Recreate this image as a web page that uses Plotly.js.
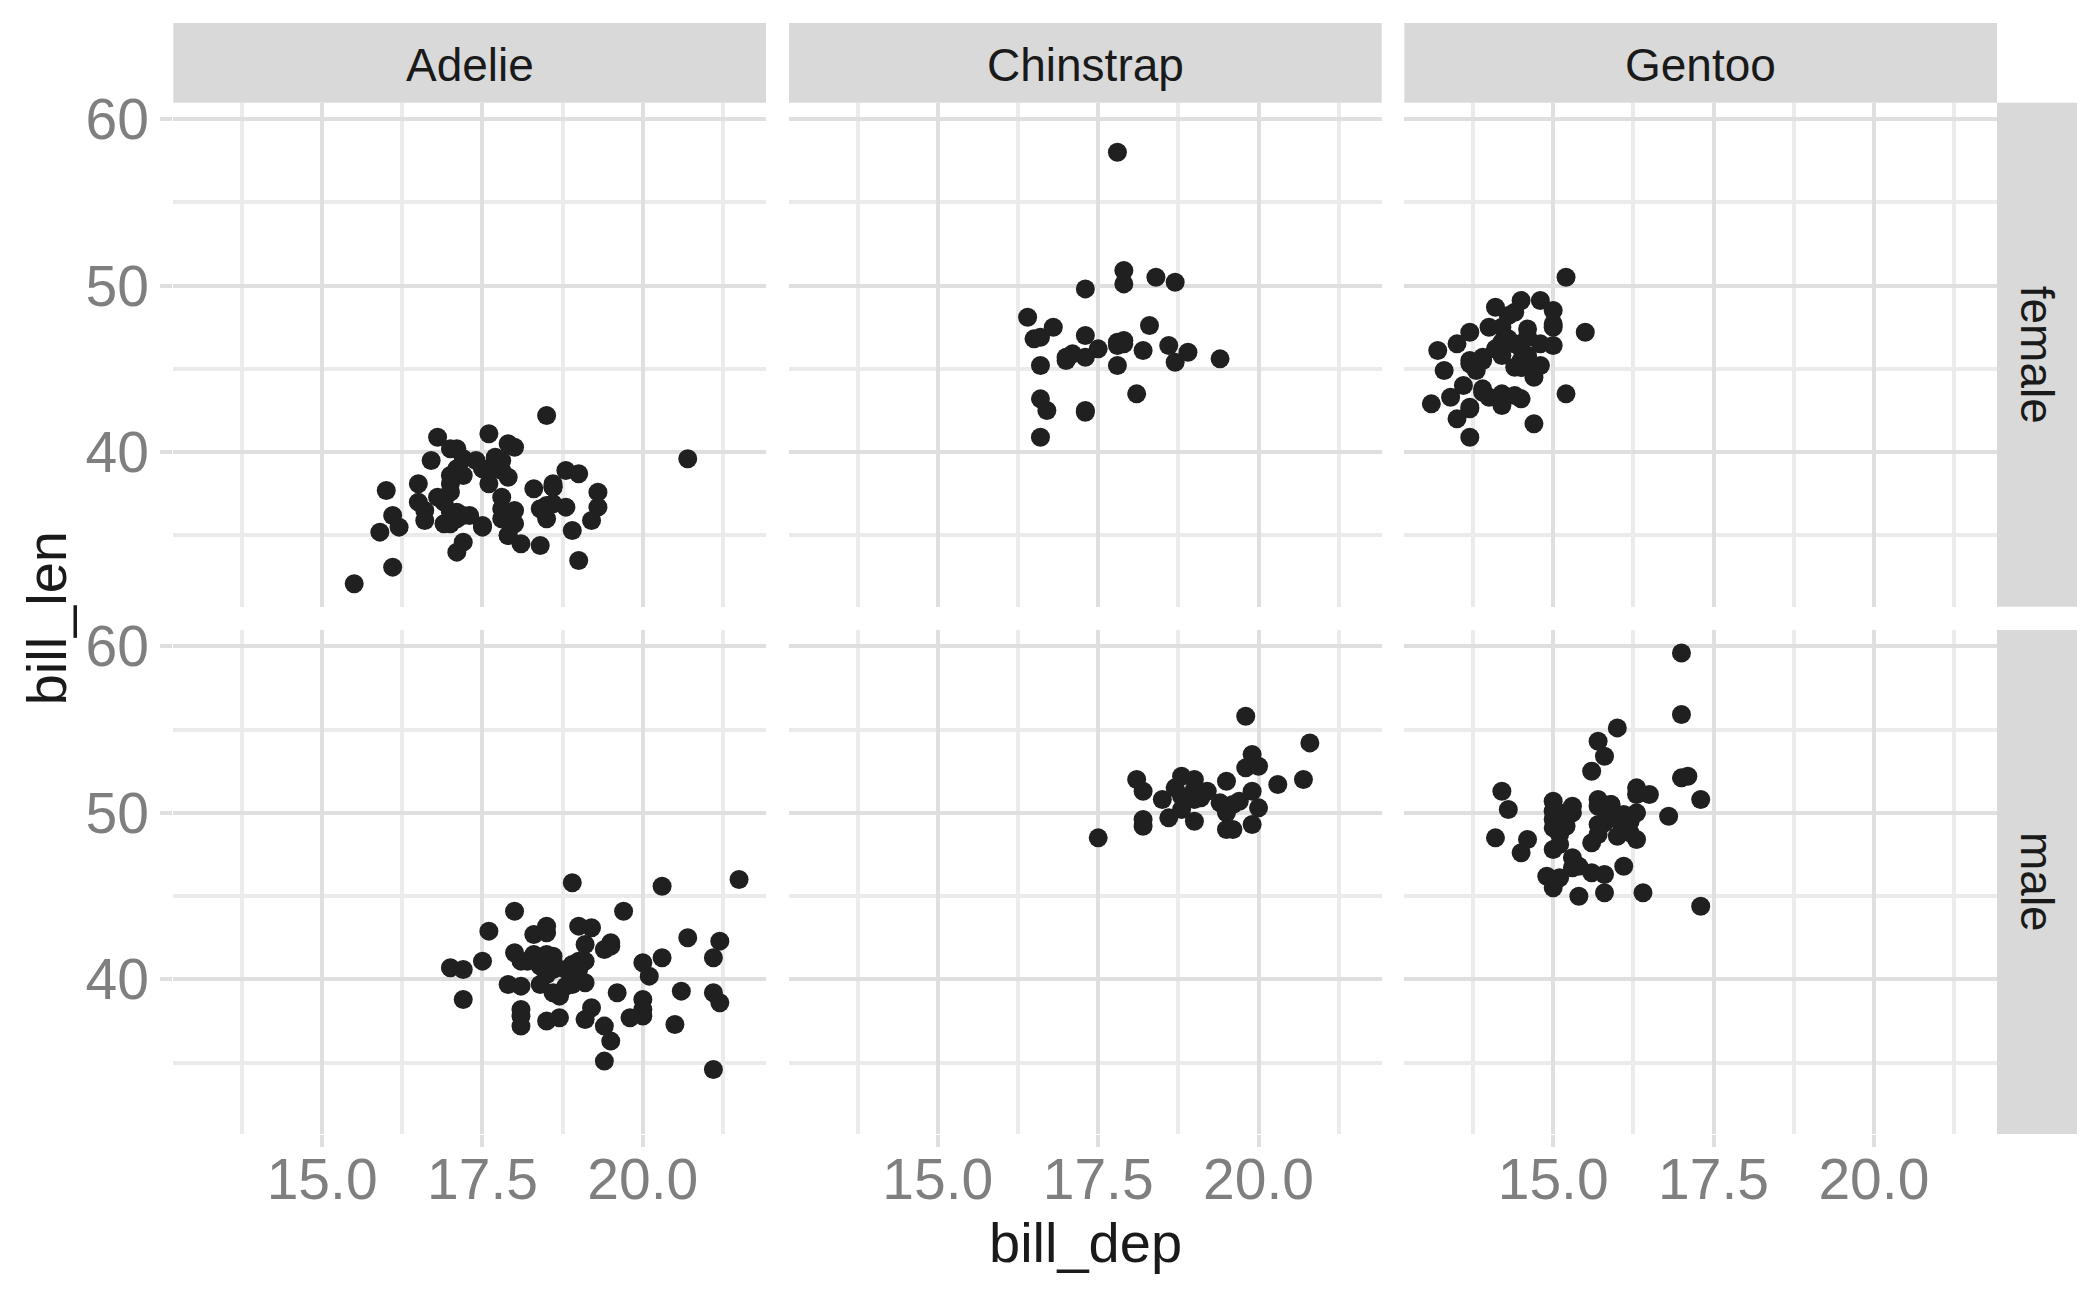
<!DOCTYPE html>
<html>
<head>
<meta charset="utf-8">
<script src="https://cdn.plot.ly/plotly-3.0.1.min.js"></script>
<style>html,body{margin:0;padding:0;background:#fff;}#chart{width:2100px;height:1297px;}</style>
</head>
<body>
<div id="chart"></div>
<script>
// ---- categories ----
const species = ['Adelie', 'Chinstrap', 'Gentoo'];
const sexes = ['female', 'male'];
const xTitle = 'bill_dep';
const yTitle = 'bill_len';

// ---- data (bill_dep, bill_len) ----
const adelieFemaleDep = [17.4,18.0,19.3,17.8,17.6,17.8,19.0,18.4,18.3,19.2,18.9,17.9,18.6,16.7,17.8,17.0,18.5,19.3,18.0,18.5,16.9,17.9,17.7,17.9,18.1,17.5,16.6,16.9,17.0,17.1,16.2,16.6,19.0,17.2,17.5,16.8,16.1,17.2,18.8,17.8,18.6,18.8,18.0,17.1,17.3,18.6,16.1,17.9,16.0,18.6,17.2,17.0,16.5,17.7,20.7,17.0,17.0,17.2,17.0,15.9,17.6,17.1,17.9,18.5,17.6,17.5,16.5,17.1,15.5,16.8,18.4,17.8,17.1];
const adelieFemaleLen = [39.5,40.3,36.7,38.9,41.1,36.6,38.7,34.4,37.8,35.9,35.3,40.5,37.9,39.5,39.5,36.4,42.2,37.6,36.5,36.0,37.0,36.0,39.6,35.0,34.5,39.0,36.5,35.7,37.6,36.4,35.5,35.9,33.5,39.6,35.5,40.9,36.2,34.6,36.7,37.3,36.9,38.9,35.7,34.0,36.2,38.1,33.1,35.0,37.7,37.9,38.6,38.1,38.1,39.7,39.6,38.6,35.7,36.2,40.2,35.2,38.8,39.0,38.5,36.8,38.1,35.6,37.0,40.2,32.1,37.3,36.6,36.0,36.0];
const adelieMaleDep = [18.7,20.6,19.6,21.2,21.1,20.7,21.5,18.7,18.1,17.2,18.6,18.9,18.1,18.9,21.1,20.0,19.1,18.4,19.7,18.8,19.0,21.2,18.9,19.5,18.6,18.8,19.1,21.1,18.2,18.0,19.1,19.4,18.4,18.9,18.5,19.4,19.1,17.6,19.4,20.3,19.5,19.2,18.1,18.1,18.9,18.5,18.5,20.0,20.0,18.9,20.0,19.0,20.3,19.5,18.3,20.5,18.6,19.8,18.5,19.0,18.3,18.0,19.2,18.5,17.5,20.1,17.9,17.2,17.0,18.7,18.6,18.1,18.5];
const adelieMaleLen = [39.1,39.3,39.2,38.6,34.6,42.5,46.0,37.7,38.2,38.8,40.6,40.5,37.2,40.9,39.2,38.8,39.8,40.8,44.1,39.6,41.1,42.3,40.1,42.0,41.4,40.6,37.6,41.3,41.1,41.6,41.1,41.8,39.7,45.8,42.8,37.2,42.1,42.9,35.1,41.3,36.3,38.3,41.1,39.6,40.8,40.3,43.2,41.0,37.8,39.7,38.2,43.2,45.6,42.2,42.7,37.3,41.1,37.7,41.4,40.6,41.5,44.1,43.1,37.5,41.1,40.2,39.7,40.6,40.7,39.0,39.2,37.8,41.5];

const chinstrapFemaleDep = [17.9,18.7,17.8,18.2,18.9,17.8,17.3,17.1,17.8,18.6,17.3,16.6,17.9,18.4,17.8,16.6,16.7,16.8,18.3,16.6,17.5,17.0,17.9,17.9,17.3,16.4,17.3,17.3,16.6,19.4,16.5,17.0,18.1,18.7];
const chinstrapFemaleLen = [46.5,45.4,45.2,46.1,46.0,46.6,47.0,45.9,58.0,46.4,42.4,43.2,46.7,50.5,46.4,40.9,42.5,47.5,47.6,46.9,46.2,45.5,50.9,50.1,49.8,48.1,45.7,42.5,45.2,45.6,46.8,45.7,43.5,50.2];
const chinstrapMaleDep = [19.5,19.2,19.8,18.2,19.9,20.3,18.1,19.6,20.0,18.2,17.5,19.4,19.0,19.0,20.0,20.8,18.8,18.6,20.7,19.9,19.5,19.1,18.5,19.6,18.7,19.0,19.7,18.8,19.9,18.8,19.5,19.8,18.2,19.0];
const chinstrapMaleLen = [50.0,51.3,52.7,51.3,51.3,51.7,52.0,50.5,50.3,49.2,48.5,50.6,52.0,49.5,52.8,54.2,51.0,49.7,52.0,53.5,49.0,50.9,50.8,49.0,51.5,51.4,50.7,52.2,49.3,50.2,51.9,55.8,49.6,50.8];

const gentooFemaleDep = [13.2,14.1,13.5,14.6,13.4,13.7,13.7,14.6,13.5,14.5,14.5,14.5,13.1,14.3,14.2,14.5,14.8,13.7,13.6,13.7,13.7,13.9,13.9,13.3,14.2,14.4,14.4,13.9,14.5,13.8,13.9,14.2,14.2,15.0,14.8,15.0,14.2,13.8,14.5,14.6,13.8,14.4,14.0,15.0,14.5,14.7,14.6,14.4,15.0,15.5,14.7,14.0,15.2,15.2,14.1,13.7,14.3,14.8];
const gentooFemaleLen = [46.1,48.7,46.5,45.4,43.3,40.9,45.5,45.8,42.0,46.2,45.1,46.5,42.9,48.2,42.8,45.1,49.1,42.6,44.0,42.7,45.3,43.6,45.5,44.9,46.6,45.1,46.5,43.8,43.2,45.3,45.7,45.8,43.5,47.7,46.5,46.4,47.5,45.2,49.1,47.4,44.9,43.4,47.5,47.5,45.5,44.5,46.9,48.4,48.5,47.2,41.7,43.3,50.5,43.5,46.2,47.2,46.8,45.2];
const gentooMaleDep = [16.3,15.2,14.5,15.3,15.4,16.1,14.6,15.7,15.2,15.1,14.3,15.8,15.1,15.0,15.3,15.3,17.0,16.3,17.3,15.7,16.0,15.0,15.9,15.9,15.8,14.1,15.0,15.4,15.0,15.3,14.9,15.7,16.8,16.2,15.0,15.6,15.6,16.0,16.3,16.4,15.6,15.9,17.3,14.2,17.0,17.1,16.1,15.7,15.8,16.5,17.0,15.0,16.1,15.8,15.1,15.9,16.3,16.0,16.2,15.7,16.1];
const gentooMaleLen = [50.0,50.0,47.6,46.7,46.8,49.0,48.4,49.3,49.2,48.7,50.2,46.3,46.1,47.8,50.0,47.3,59.6,48.4,44.4,48.7,49.6,49.6,50.5,50.5,45.2,48.5,50.1,45.0,45.5,50.4,46.2,54.3,49.8,49.5,50.7,46.4,48.2,48.6,51.1,45.2,52.5,50.0,50.8,51.3,52.1,52.2,49.5,50.8,49.4,51.1,55.9,49.1,46.8,53.4,48.1,49.8,51.5,55.1,48.8,50.4,49.9];

const seriesDep = [[adelieFemaleDep, chinstrapFemaleDep, gentooFemaleDep],
                   [adelieMaleDep, chinstrapMaleDep, gentooMaleDep]];
const seriesLen = [[adelieFemaleLen, chinstrapFemaleLen, gentooFemaleLen],
                   [adelieMaleLen, chinstrapMaleLen, gentooMaleLen]];

// ---- layout geometry (px) ----
const W = 2100, H = 1297;
const colPx = [[173.3, 766], [789, 1381.7], [1404.4, 1997]];
const rowPx = [[102.7, 606.7], [630, 1134]];
const stripTop = 23;
const stripRight = [1997, 2077];
const xRange = [12.68, 21.92];
const yRange = [30.725, 60.975];

const FONT = 'Liberation Sans, Arial, Helvetica, sans-serif';
const gridMajor = '#dfdfdf', gridMinor = '#ebebeb';

const px2x = p => p / W;
const px2y = p => 1 - p / H;

const data = [];
const layout = {
  width: W, height: H,
  margin: {l: 0, r: 0, t: 0, b: 0},
  paper_bgcolor: '#ffffff', plot_bgcolor: '#ffffff',
  showlegend: false,
  font: {family: FONT},
  shapes: [], annotations: []
};

for (let r = 0; r < sexes.length; r++) {
  for (let c = 0; c < species.length; c++) {
    const idx = r * 3 + c + 1;
    const xa = idx === 1 ? 'x' : 'x' + idx;
    const ya = idx === 1 ? 'y' : 'y' + idx;
    data.push({
      type: 'scatter', mode: 'markers',
      x: seriesDep[r][c], y: seriesLen[r][c],
      xaxis: xa, yaxis: ya,
      marker: {color: '#202020', size: 19, line: {width: 0}},
      hoverinfo: 'skip'
    });
    const xName = idx === 1 ? 'xaxis' : 'xaxis' + idx;
    const yName = idx === 1 ? 'yaxis' : 'yaxis' + idx;
    layout[xName] = {
      domain: [px2x(colPx[c][0]), px2x(colPx[c][1])],
      anchor: ya, range: xRange,
      tickmode: 'linear', tick0: 0, dtick: 2.5, tickformat: '.1f',
      showgrid: true, gridcolor: gridMajor, gridwidth: 4,
      minor: {tickmode: 'linear', tick0: 1.25, dtick: 2.5, showgrid: true, gridcolor: gridMinor, gridwidth: 4, ticks: ''},
      zeroline: false, showline: false,
      ticks: r === 1 ? 'outside' : '', ticklen: 12, tickwidth: 4, tickcolor: gridMajor,
      showticklabels: r === 1,
      ticklabelstandoff: -16,
      tickfont: {family: FONT, size: 57, color: '#7f7f7f'},
      fixedrange: true
    };
    layout[yName] = {
      domain: [px2y(rowPx[r][1]), px2y(rowPx[r][0])],
      anchor: xa, range: yRange,
      tickmode: 'linear', tick0: 0, dtick: 10,
      showgrid: true, gridcolor: gridMajor, gridwidth: 4,
      minor: {tickmode: 'linear', tick0: 5, dtick: 10, showgrid: true, gridcolor: gridMinor, gridwidth: 4, ticks: ''},
      zeroline: false, showline: false,
      ticks: c === 0 ? 'outside' : '', ticklen: 12, tickwidth: 4, tickcolor: gridMajor,
      showticklabels: c === 0,
      tickfont: {family: FONT, size: 57, color: '#7f7f7f'},
      fixedrange: true
    };
  }
}

// strips (top: species)
species.forEach((s, c) => {
  layout.shapes.push({type: 'rect', xref: 'paper', yref: 'paper', layer: 'below',
    x0: px2x(colPx[c][0]), x1: px2x(colPx[c][1]), y0: px2y(rowPx[0][0]), y1: px2y(stripTop),
    fillcolor: '#d9d9d9', line: {width: 0}});
  layout.annotations.push({xref: 'paper', yref: 'paper', showarrow: false,
    x: px2x((colPx[c][0] + colPx[c][1]) / 2), y: px2y(65), xanchor: 'center', yanchor: 'middle',
    text: s, font: {family: FONT, size: 46, color: '#1a1a1a'}});
});
// strips (right: sex)
sexes.forEach((s, r) => {
  layout.shapes.push({type: 'rect', xref: 'paper', yref: 'paper', layer: 'below',
    x0: px2x(stripRight[0]), x1: px2x(stripRight[1]), y0: px2y(rowPx[r][1]), y1: px2y(rowPx[r][0]),
    fillcolor: '#d9d9d9', line: {width: 0}});
  layout.annotations.push({xref: 'paper', yref: 'paper', showarrow: false,
    x: px2x((stripRight[0] + stripRight[1]) / 2), y: px2y((rowPx[r][0] + rowPx[r][1]) / 2),
    xanchor: 'center', yanchor: 'middle', textangle: 90,
    text: s, font: {family: FONT, size: 46, color: '#1a1a1a'}});
});
// axis titles
layout.annotations.push({xref: 'paper', yref: 'paper', showarrow: false,
  x: px2x((colPx[0][0] + colPx[2][1]) / 2), y: px2y(1242), xanchor: 'center', yanchor: 'middle',
  text: xTitle, font: {family: FONT, size: 56, color: '#1a1a1a'}});
layout.annotations.push({xref: 'paper', yref: 'paper', showarrow: false,
  x: px2x(46), y: px2y((rowPx[0][0] + rowPx[1][1]) / 2), xanchor: 'center', yanchor: 'middle', textangle: -90,
  text: yTitle, font: {family: FONT, size: 56, color: '#1a1a1a'}});

Plotly.newPlot('chart', data, layout, {staticPlot: true, displayModeBar: false});
</script>
</body>
</html>
